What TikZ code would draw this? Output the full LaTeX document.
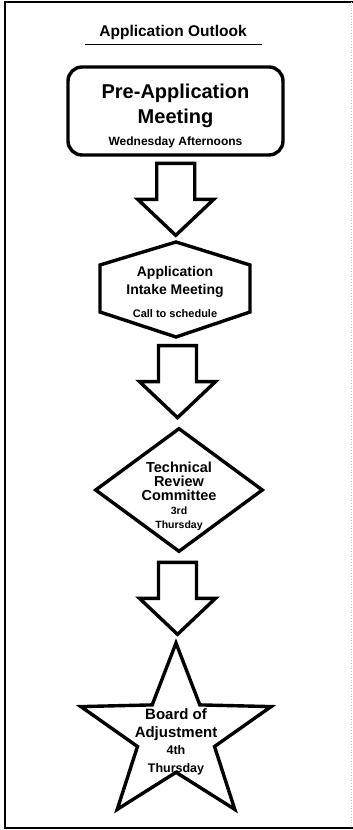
\documentclass[tikz,border=0pt]{standalone}
\usepackage{fontspec}
\setmainfont{Liberation Sans}
\usetikzlibrary{shapes.geometric,calc}

\tikzset{
  outline/.style={line width=3.4pt},
  boxtext/.style={font=\bfseries, align=center, inner sep=0pt},
  pics/downarrow/.style={code={
    \draw[outline] (-19,36) -- (19,36) -- (19,0) -- (38,0) -- (0,-36) -- (-38,0) -- (-19,0) -- cycle;
  }},
}

\begin{document}
\begin{tikzpicture}[x=1pt,y=1pt]
    \useasboundingbox (0,0) rectangle (353,830);
    \draw[line width=1.6pt] (353,828) -- (5,828) -- (5,2) -- (353,2);
    \draw[gray!45, line width=0.8pt, dotted] (351,828) -- (351,2);

    \node[boxtext, font=\bfseries\fontsize{15.5}{16}\selectfont] (title) at (173,797) {Application Outlook};
    \draw[line width=0.8pt] (85,786) -- (262,786);

    % pre-application meeting
    \node[outline, draw, rounded corners=14pt, minimum width=215pt, minimum height=88pt] (pre) at (175.5,719) {};
    \node[boxtext, font=\bfseries\fontsize{20}{25}\selectfont] (pre text) at (175.5,714)
          {Pre-Application\\ Meeting\\[-3pt] {\fontsize{12}{13}\selectfont Wednesday Afternoons}};

    % intake meeting
    \coordinate (intake top) at (176,588);
    \coordinate (intake bottom) at (176,493);
    \draw[outline] (intake top) -- (250,565) -- (250,518) -- (intake bottom) -- (100,518) -- (100,565) -- cycle;
    \node[boxtext, font=\bfseries\fontsize{14}{18}\selectfont] (intake) at (175,538)
          {Application\\ Intake Meeting\\[5pt] {\fontsize{11}{13}\selectfont Call to schedule}};

    % technical review
    \node[outline, draw, diamond, minimum width=168pt, minimum height=124pt, inner sep=0pt] (trc) at (179,340) {};
    \node[boxtext, font=\bfseries\fontsize{14.5}{14}\selectfont] (trc text) at (179,334)
          {Technical\\ Review\\ Committee\\ {\fontsize{10.5}{13}\selectfont 3rd}\\ {\fontsize{10.5}{14}\selectfont Thursday}};

    % board of adjustment
    \coordinate (star top) at (176,187);
    \draw[outline] (star top) -- (152.2,125.1) -- (80.9,123.4) -- (137.5,83.5) -- (117.2,20.6)
        -- (176,57.7) -- (234.8,20.6) -- (214.5,83.5) -- (271.1,123.4) -- (199.8,125.1) -- cycle;
    \node[boxtext, font=\bfseries\fontsize{15}{17.5}\selectfont] (boa) at (176,88)
          {Board of\\ Adjustment\\ {\fontsize{12.5}{15}\selectfont 4th}\\ {\fontsize{12.5}{15}\selectfont Thursday}};

    \pic at ($(pre.south)!0.5!(intake top)$) {downarrow};
    \pic at ($(intake bottom)!0.5!(trc.north)$) {downarrow};
    \pic at ($(trc.south)!0.5!(star top)$) {downarrow};
\end{tikzpicture}
\end{document}
